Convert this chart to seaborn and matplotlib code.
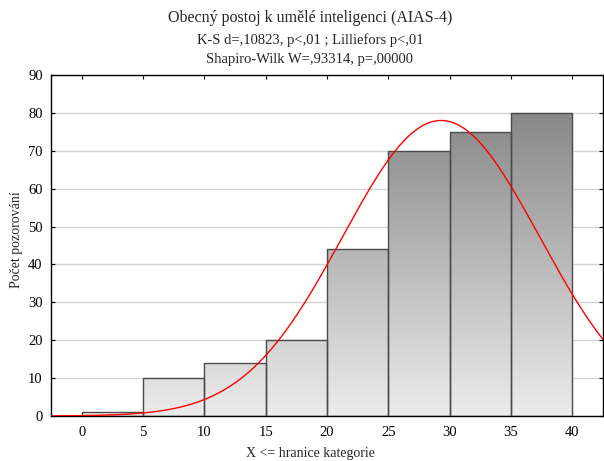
import numpy as np
import pandas as pd
import matplotlib
matplotlib.use("Agg")
import matplotlib.pyplot as plt
import seaborn as sns
from matplotlib.colors import LinearSegmentedColormap

# Data
bin_edges = [0, 5, 10, 15, 20, 25, 30, 35, 40]
counts = [1, 10, 14, 20, 44, 70, 75, 80]
fit_mean = 29.3
fit_sd = 8.03
title_lines = ["Obecný postoj k umělé inteligenci (AIAS-4)",
               "K-S d=,10823, p<,01 ; Lilliefors p<,01",
               "Shapiro-Wilk W=,93314, p=,00000"]
xlabel = "X <= hranice kategorie"
ylabel = "Počet pozorování"
xticks = [0, 5, 10, 15, 20, 25, 30, 35, 40]
yticks = [0, 10, 20, 30, 40, 50, 60, 70, 80, 90]

sns.set_style("white")
plt.rcParams['font.family'] = ['Liberation Serif', 'DejaVu Serif']

fig = plt.figure(figsize=(6.04, 4.61), dpi=100)
ax = fig.add_axes([51/604, 1 - 416/461, (603-51)/604, (416-75)/461])

centers = [(bin_edges[i] + bin_edges[i+1]) / 2 for i in range(len(counts))]
df = pd.DataFrame({"x": centers, "w": counts})
sns.histplot(data=df, x="x", weights="w", bins=bin_edges, ax=ax,
             color="none", edgecolor="#4a4a4a", linewidth=1.0, alpha=1, zorder=3)

xmin, xmax, ymin, ymax = -2.5, 42.5, 0, 90
ax.set_xlim(xmin, xmax)
ax.set_ylim(ymin, ymax)

cmap = LinearSegmentedColormap.from_list("g", ["#ececec", "#888888"])
grad = np.linspace(0, 1, 256).reshape(-1, 1)
for p in list(ax.patches):
    im = ax.imshow(grad, extent=[xmin, xmax, 0, 80], origin="lower", aspect="auto",
                   cmap=cmap, zorder=2)
    im.set_clip_path(p)

ax.set_xlim(xmin, xmax)
ax.set_ylim(ymin, ymax)

# Normal fit curve
xs = np.linspace(xmin, xmax, 400)
N = sum(counts)
w = bin_edges[1] - bin_edges[0]
ys = N * w / (fit_sd * np.sqrt(2 * np.pi)) * np.exp(-0.5 * ((xs - fit_mean) / fit_sd) ** 2)
sns.lineplot(x=xs, y=ys, ax=ax, color="red", linewidth=1.0, zorder=4)

ax.set_yticks(yticks)
ax.set_xticks(xticks)
ax.grid(axis="y", color="#d4d4d4", linewidth=1.0, zorder=0)
ax.set_axisbelow(True)
for s in ax.spines.values():
    s.set_visible(True)
    s.set_color("black")
    s.set_linewidth(1.0)
ax.tick_params(axis="both", which="both", direction="in", top=True, right=True,
               left=True, bottom=True, length=3, labelsize=10.5, colors="black")
ax.tick_params(axis="x", pad=7)
ax.tick_params(axis="y", pad=6)

ax.set_xlabel(xlabel, fontsize=10)
ax.set_ylabel(ylabel, fontsize=10)
ax.xaxis.set_label_coords((310 - 51) / 552, (416 - 453) / 341)
ax.yaxis.set_label_coords((17 - 51) / 552, (416 - 240) / 341)
ax.xaxis.label.set_va("center")
ax.yaxis.label.set_va("center")

fig.text(0.513, 1 - 18/461, title_lines[0], ha="center", va="center", fontsize=11.5)
fig.text(0.513, 1 - 40/461, title_lines[1], ha="center", va="center", fontsize=10.5)
fig.text(0.513, 1 - 60/461, title_lines[2], ha="center", va="center", fontsize=10.5)

fig.savefig("out.png", dpi=100)
